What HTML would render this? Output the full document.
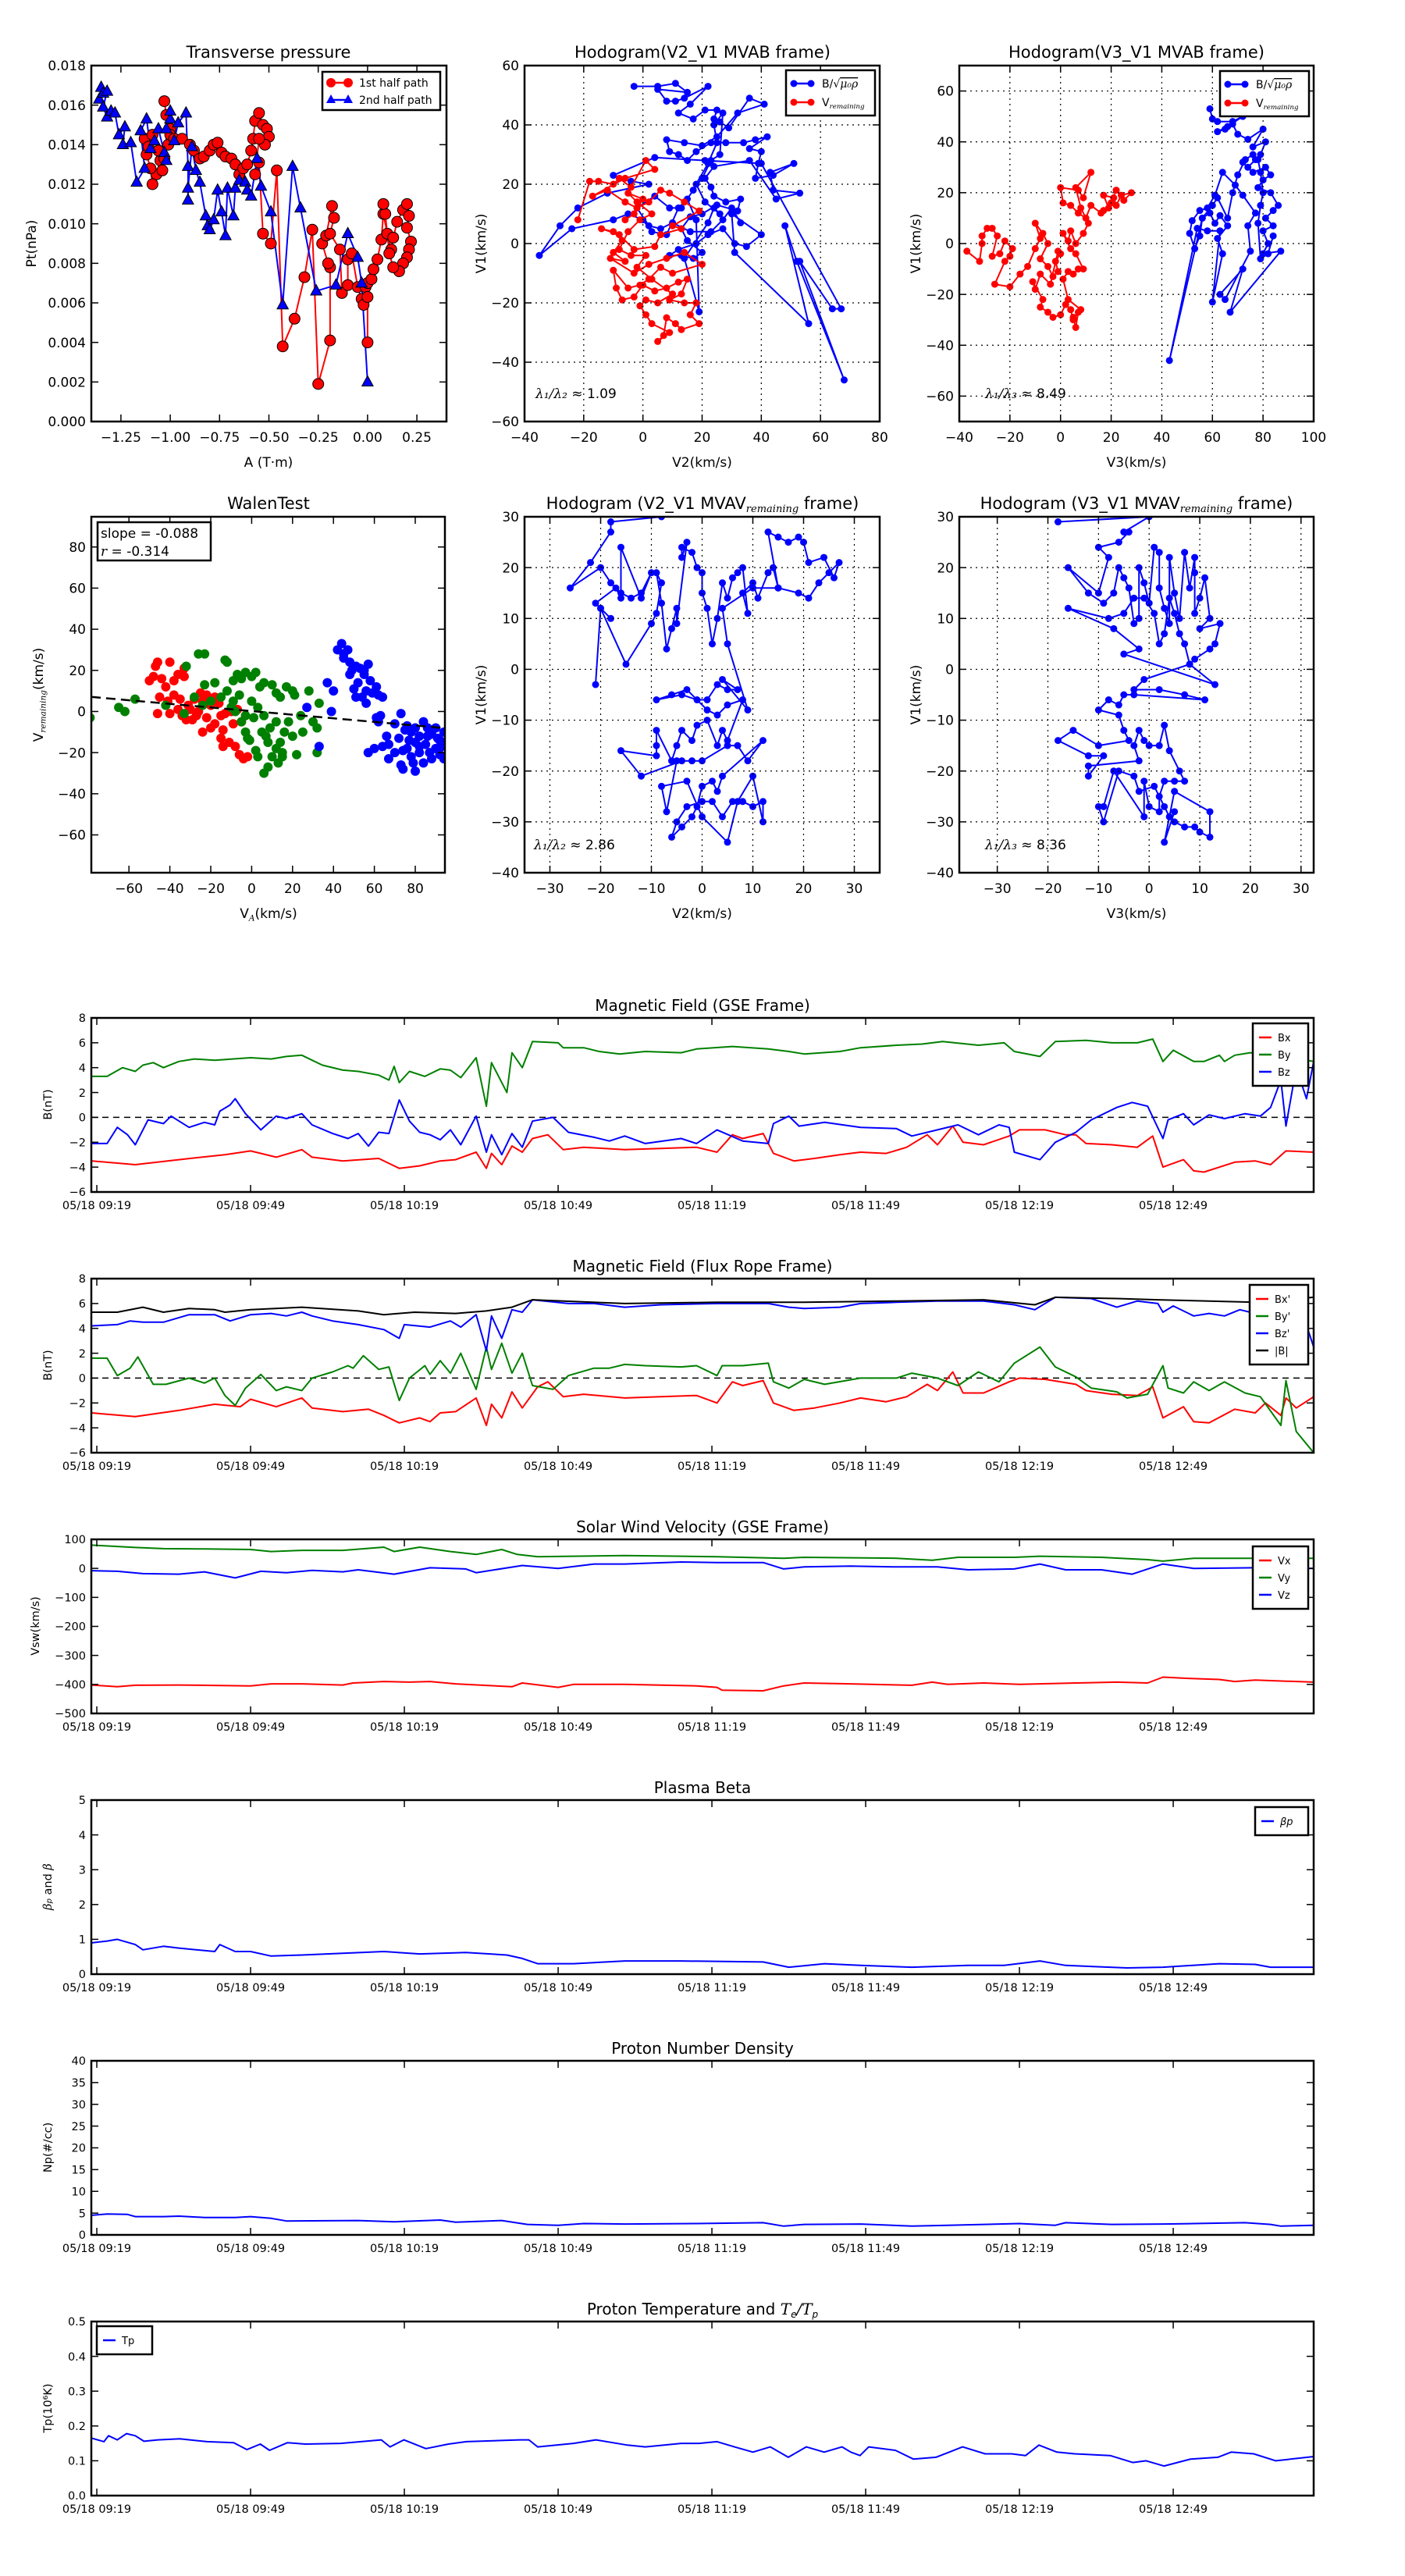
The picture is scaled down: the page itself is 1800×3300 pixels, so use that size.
<!DOCTYPE html>
<html><head><meta charset="utf-8"><style>
html,body{margin:0;padding:0;background:#fff}
svg{display:block}
text{font-family:"DejaVu Sans","Liberation Sans",sans-serif;fill:#000}
</style></head><body>
<svg id="fig" xmlns="http://www.w3.org/2000/svg" width="1800" height="3300" viewBox="0 0 1800 3300"></svg>
<script>
// ---------- data ----------
const tpRed=[[-1.03,0.0162],[-1.02,0.0155],[-1.0,0.0148],[-1.01,0.014],[-1.05,0.0132],[-1.07,0.0125],[-1.09,0.012],[-1.1,0.0128],[-1.12,0.0135],[-1.13,0.0143],[-1.11,0.0139],[-1.09,0.0145],[-1.06,0.0137],[-1.04,0.0127],[-1.03,0.0133],[-1.0,0.0145],[-0.98,0.0143],[-0.94,0.0143],[-0.9,0.014],[-0.88,0.0137],[-0.85,0.0133],[-0.83,0.0134],[-0.8,0.0137],[-0.78,0.014],[-0.76,0.0141],[-0.74,0.0136],[-0.72,0.0134],[-0.69,0.0133],[-0.67,0.013],[-0.65,0.0125],[-0.63,0.0128],[-0.61,0.013],[-0.59,0.0137],[-0.58,0.0143],[-0.57,0.0152],[-0.55,0.0156],[-0.53,0.015],[-0.51,0.0148],[-0.5,0.0144],[-0.52,0.014],[-0.55,0.0143],[-0.57,0.0125],[-0.55,0.0131],[-0.53,0.0095],[-0.49,0.009],[-0.46,0.0127],[-0.43,0.0038],[-0.37,0.0052],[-0.32,0.0073],[-0.28,0.0097],[-0.25,0.0019],[-0.19,0.0041],[-0.19,0.0078],[-0.2,0.008],[-0.23,0.009],[-0.21,0.0094],[-0.18,0.0109],[-0.17,0.0103],[-0.19,0.0095],[-0.14,0.0087],[-0.13,0.0065],[-0.1,0.0069],[-0.1,0.0082],[-0.08,0.0085],[-0.05,0.0068],[-0.03,0.0062],[-0.02,0.0059],[-0.01,0.0068],[0.0,0.0063],[0.0,0.004],[0.0,0.007],[0.02,0.0072],[0.03,0.0077],[0.05,0.0082],[0.07,0.0092],[0.08,0.0105],[0.1,0.0095],[0.12,0.0087],[0.13,0.0093],[0.15,0.0101],[0.18,0.0107],[0.2,0.011],[0.21,0.0104],[0.2,0.0098],[0.22,0.0091],[0.21,0.0087],[0.2,0.0083],[0.18,0.008],[0.16,0.0076],[0.13,0.0078],[0.11,0.0085],[0.09,0.0105],[0.08,0.011]];
const tpBlue=[[-1.36,0.0163],[-1.35,0.0169],[-1.34,0.0166],[-1.32,0.0167],[-1.34,0.0159],[-1.32,0.0154],[-1.3,0.0157],[-1.28,0.0156],[-1.26,0.0145],[-1.23,0.0149],[-1.24,0.014],[-1.2,0.0141],[-1.17,0.0121],[-1.13,0.0128],[-1.15,0.0147],[-1.12,0.0153],[-1.1,0.0138],[-1.08,0.0142],[-1.06,0.0148],[-1.03,0.0136],[-1.02,0.0132],[-1.02,0.0148],[-1.0,0.0153],[-1.0,0.0157],[-0.98,0.0142],[-0.96,0.0151],[-0.92,0.0156],[-0.91,0.0129],[-0.91,0.0112],[-0.91,0.0118],[-0.89,0.0139],[-0.87,0.0127],[-0.85,0.0121],[-0.82,0.0104],[-0.81,0.0099],[-0.8,0.0097],[-0.78,0.0102],[-0.76,0.0117],[-0.74,0.0106],[-0.72,0.0094],[-0.71,0.0118],[-0.68,0.0104],[-0.67,0.0118],[-0.65,0.0122],[-0.62,0.0121],[-0.61,0.0117],[-0.59,0.0114],[-0.56,0.0133],[-0.54,0.0119],[-0.49,0.0106],[-0.43,0.0059],[-0.38,0.0129],[-0.34,0.0108],[-0.26,0.0066],[-0.16,0.0069],[-0.1,0.0095],[-0.05,0.0083],[-0.03,0.007],[0.0,0.002]];
const h1Blue=[[-3,53],[5,53],[11,54],[15,51],[5,52],[8,48],[11,48],[14,49],[22,53],[16,47],[12,44],[17,42],[21,45],[25,45],[24,42],[26,41],[29,39],[36,49],[41,47],[32,44],[25,36],[20,33],[14,34],[8,35],[9,31],[12,30],[15,28],[18,31],[23,34],[28,34],[34,34],[38,35],[42,36],[36,32],[40,31],[39,27],[38,22],[44,23],[51,27],[43,24],[44,18],[53,17],[45,15],[36,28],[24,26],[21,22],[23,19],[24,16],[28,14],[33,15],[32,11],[25,13],[20,10],[16,9],[13,5],[15,1],[20,-3],[17,-5],[13,-4],[9,-4],[12,-2],[18,0],[22,3],[27,5],[31,0],[35,-1],[40,3],[30,10],[31,-3],[56,-27],[48,6],[52,-6],[68,-46],[53,-6],[64,-22],[67,-22],[40,27],[21,28],[4,29],[-10,23],[-4,21],[2,20],[-12,17],[-22,12],[-28,6],[-35,-4],[-24,5],[-10,8],[-5,10],[0,8],[3,4],[8,3],[12,12],[15,15],[18,8],[19,-23],[14,-5],[22,7],[24,12],[26,10],[21,14],[18,20],[22,27],[25,34],[24,40],[27,44],[26,30],[23,28],[20,22],[17,18],[13,12],[9,12],[4,16],[-2,12],[2,6],[6,5],[10,7],[16,4],[23,4],[27,8],[30,12],[33,7]];
const h1Red=[[-22,8],[-18,21],[-15,21],[-10,20],[-8,22],[-4,19],[1,28],[4,25],[-6,22],[-17,16],[-12,18],[-6,14],[-2,12],[2,14],[6,18],[9,17],[14,14],[19,11],[10,6],[13,5],[6,3],[4,-1],[-3,-2],[-8,3],[-14,5],[-10,4],[-7,1],[-10,-3],[-6,-6],[-11,-5],[-3,-10],[2,-7],[8,-5],[14,-3],[20,-7],[10,-10],[6,-8],[2,-12],[-1,-14],[-5,-15],[-10,-9],[-9,-15],[-7,-19],[-3,-18],[0,-14],[4,-16],[8,-15],[12,-13],[15,-12],[13,-17],[9,-19],[14,-20],[18,-20],[16,-24],[19,-27],[13,-29],[11,-27],[8,-25],[7,-31],[5,-33],[9,-30],[3,-27],[1,-24],[-1,-21],[1,-19],[5,-20],[10,-17],[3,-12],[-2,-8],[1,-4],[-4,-4],[-8,-2],[-5,4],[-1,8],[3,10],[-2,14],[-5,17],[0,15],[-3,10],[-6,8]];
const h2Blue=[[59,53],[60,49],[62,48],[68,48],[72,50],[66,46],[62,44],[65,45],[68,47],[70,43],[74,41],[80,45],[76,38],[81,40],[79,35],[77,33],[74,30],[72,32],[76,28],[81,30],[83,27],[80,25],[78,22],[83,20],[86,15],[84,13],[81,10],[84,7],[80,5],[82,0],[80,-4],[87,-3],[67,-27],[72,-10],[63,-20],[65,-22],[75,-3],[74,7],[77,12],[72,19],[69,23],[64,28],[61,19],[58,14],[55,13],[52,9],[51,4],[53,-2],[55,3],[56,10],[59,12],[61,8],[63,11],[66,7],[62,2],[64,-4],[60,-23],[63,5],[58,5],[54,6],[43,-46],[56,10],[60,15],[62,18],[66,10],[68,20],[70,27],[73,33],[76,35],[78,33],[79,28],[80,20],[79,15],[78,8],[79,-6],[82,-4],[84,3]];
const h2Red=[[-37,-3],[-32,-7],[-31,0],[-31,3],[-29,6],[-27,6],[-25,3],[-27,-5],[-24,-4],[-22,1],[-19,-2],[-20,-5],[-22,-7],[-26,-16],[-20,-17],[-16,-12],[-13,-9],[-10,-2],[-8,2],[-10,8],[-7,4],[-5,0],[-8,-6],[-5,-9],[-3,-13],[-1,-11],[-2,-7],[0,-4],[-1,-3],[-4,-16],[-8,-12],[-10,-18],[-11,-15],[-7,-22],[-8,-25],[-5,-27],[-3,-29],[0,-28],[2,-24],[4,-26],[5,-30],[7,-27],[6,-33],[5,-29],[8,-26],[3,-22],[1,-14],[3,-11],[5,-12],[7,-10],[9,-10],[6,-4],[4,-2],[1,4],[3,1],[4,5],[6,0],[9,4],[11,8],[8,14],[6,22],[12,28],[9,18],[7,21],[0,22],[1,16],[4,15],[7,12],[10,10],[12,15],[16,12],[19,14],[17,19],[21,18],[22,15],[24,19],[28,20],[25,17],[22,21],[20,16],[17,13]];
const walenRed=[[-50,15],[-47,22],[-46,24],[-40,24],[-48,17],[-44,16],[-42,12],[-38,15],[-36,18],[-33,21],[-33,17],[-46,-1],[-45,7],[-41,5],[-38,8],[-35,6],[-31,3],[-28,6],[-25,9],[-22,8],[-18,7],[-40,-1],[-36,1],[-32,-4],[-29,-4],[-26,0],[-24,-10],[-20,-8],[-18,-6],[-22,-3],[-15,-2],[-13,-1],[-10,0],[-7,1],[-15,-13],[-14,-17],[-11,-15],[-8,-17],[-6,-21],[-4,-23],[-2,-22],[-14,-9],[-9,-6],[-5,-5],[-20,3],[-27,-2],[-30,1],[-34,-2],[-24,5],[-16,4]];
const walenGreen=[[-79,-3],[-65,2],[-62,0],[-57,6],[-42,3],[-33,-1],[-32,22],[-26,28],[-23,28],[-13,25],[-12,24],[-18,14],[-23,13],[-28,7],[-24,3],[-20,5],[-15,7],[-12,10],[-9,15],[-7,18],[-5,16],[-3,19],[0,17],[2,19],[4,12],[6,14],[10,13],[12,9],[14,7],[17,12],[20,10],[21,8],[28,10],[33,4],[-10,2],[-8,0],[-5,-5],[-3,-10],[-1,-14],[2,-19],[3,-22],[6,-30],[8,-27],[10,-22],[12,-18],[14,-15],[16,-10],[12,-5],[9,-8],[6,-2],[3,2],[0,5],[-3,-2],[-6,8],[-9,5],[15,-20],[18,-5],[22,-21],[25,-10],[30,-5],[32,-8],[32,-20],[20,-12],[24,-2],[-2,-13],[5,-10],[8,-15],[13,-25],[15,-22],[1,-3],[7,-12]];
const walenBlue=[[27,2],[33,-17],[37,14],[40,10],[39,0],[42,30],[44,33],[45,28],[47,30],[45,26],[48,24],[49,20],[48,18],[51,22],[53,21],[55,18],[55,20],[57,23],[58,15],[56,10],[52,14],[50,11],[51,7],[54,7],[56,4],[59,9],[61,12],[62,8],[64,7],[61,-3],[62,-5],[63,-2],[66,-12],[70,-6],[72,-13],[73,-1],[75,-9],[76,-7],[78,-10],[80,-8],[82,-12],[84,-5],[86,-8],[88,-11],[90,-8],[92,-14],[94,-10],[57,-20],[60,-18],[64,-17],[67,-16],[67,-23],[70,-20],[73,-26],[74,-28],[76,-18],[78,-22],[80,-15],[80,-29],[82,-20],[84,-25],[85,-16],[87,-20],[88,-23],[90,-18],[92,-21],[94,-23],[86,-12],[82,-17],[79,-25],[91,-13],[93,-17],[77,-14],[74,-19]];
const walenSlope=-0.088;
const walenIntercept=0.2;
const h3Pts=[[-8,30],[-18,29],[-18,27],[-22,21],[-26,16],[-20,20],[-18,17],[-16,15],[-14,14],[-12,15],[-10,19],[-12,14],[-16,24],[-16,14],[-17,16],[-21,13],[-18,10],[-20,12],[-21,-3],[-20,12],[-15,1],[-10,9],[-9,11],[-8,17],[-9,19],[-8,13],[-7,4],[-6,8],[-5,12],[-5,9],[-3,25],[-4,22],[-4,24],[-2,23],[-1,20],[0,19],[0,15],[1,12],[2,5],[3,10],[4,17],[5,14],[6,18],[7,19],[8,20],[9,11],[8,15],[10,17],[11,14],[13,19],[14,20],[15,16],[13,27],[15,26],[17,25],[19,26],[20,25],[21,21],[24,22],[26,18],[27,21],[25,19],[23,17],[21,14],[19,15],[15,16],[10,16],[4,12],[5,5],[9,-8],[4,-2],[7,-4],[5,-4],[3,-3],[1,-6],[-1,-6],[-4,-5],[-9,-6],[-6,-5],[-3,-4],[1,-8],[3,-9],[5,-7],[8,-6],[5,-14],[4,-12],[3,-15],[1,-10],[-1,-11],[-2,-14],[-4,-12],[-5,-15],[-6,-18],[-9,-12],[-9,-15],[-9,-17],[-16,-16],[-12,-21],[-4,-18],[-2,-18],[0,-18],[5,-15],[7,-15],[9,-18],[12,-14],[4,-21],[3,-24],[2,-22],[0,-23],[-1,-27],[-2,-29],[-4,-31],[-6,-33],[-5,-30],[-3,-27],[0,-26],[2,-26],[4,-29],[6,-26],[8,-26],[10,-27],[12,-26],[12,-30],[10,-21],[7,-26],[5,-34],[0,-29],[-3,-22],[-8,-23],[-7,-28],[-5,-18]];
const h4Pts=[[-18,29],[0,30],[-5,27],[-4,27],[-6,25],[-10,24],[-8,22],[-10,15],[-16,20],[-12,15],[-9,13],[-7,15],[-6,20],[-5,18],[-4,16],[-3,9],[-2,10],[-2,20],[-1,17],[0,13],[1,24],[2,23],[2,16],[3,12],[4,9],[4,22],[5,15],[6,10],[7,23],[8,16],[9,22],[9,19],[9,11],[10,14],[11,18],[12,10],[10,8],[14,9],[13,5],[12,4],[9,2],[8,1],[7,5],[6,7],[5,11],[4,14],[3,7],[2,5],[1,11],[-1,14],[-3,14],[-5,11],[-8,10],[-16,12],[-7,8],[-2,4],[-5,3],[13,-3],[8,1],[-1,-2],[-3,-4],[2,-4],[7,-5],[11,-6],[-3,-5],[-5,-5],[-6,-7],[-8,-6],[-10,-8],[-6,-9],[-5,-12],[-4,-14],[-10,-15],[-15,-12],[-18,-14],[-12,-17],[-9,-17],[-12,-21],[-12,-19],[-2,-18],[-3,-15],[-2,-12],[-1,-14],[0,-15],[2,-15],[3,-11],[4,-16],[6,-20],[7,-22],[5,-22],[3,-22],[2,-25],[2,-28],[0,-27],[-1,-22],[-1,-29],[-7,-20],[-9,-27],[-10,-27],[-9,-30],[-6,-20],[-3,-21],[-2,-24],[1,-23],[3,-27],[4,-29],[5,-30],[7,-31],[9,-31],[10,-32],[12,-33],[12,-28],[5,-24],[3,-34],[5,-28]];
// time series: [minutes after 09:19, value]
const gseBx=[[-1,-3.5],[7.5,-3.8],[16,-3.4],[25,-3.0],[30,-2.7],[35,-3.2],[40,-2.6],[42,-3.2],[48,-3.5],[55,-3.3],[59,-4.1],[63,-3.9],[67,-3.5],[70,-3.4],[74,-2.8],[76,-4.1],[77,-2.9],[79,-3.8],[81,-2.3],[83,-2.8],[85,-1.7],[88,-1.4],[91,-2.6],[95,-2.4],[103,-2.6],[110,-2.5],[117,-2.4],[121,-2.8],[124,-1.4],[126,-1.7],[130,-1.3],[132,-2.9],[136,-3.5],[140,-3.3],[145,-3.0],[149,-2.8],[154,-2.9],[158,-2.4],[162,-1.4],[164,-2.2],[167,-0.7],[169,-2.0],[173,-2.2],[178,-1.5],[180,-1.0],[185,-1.0],[189,-1.4],[191,-1.4],[193,-2.1],[198,-2.2],[203,-2.4],[206,-1.5],[208,-4.0],[212,-3.4],[214,-4.3],[216,-4.4],[222,-3.6],[226,-3.5],[229,-3.8],[232,-2.7],[237.4,-2.8]];
const gseBy=[[-1,3.3],[2,3.3],[5,4.0],[7.5,3.7],[9,4.2],[11,4.4],[13,4.0],[16,4.5],[19,4.7],[23,4.6],[30,4.8],[34,4.7],[37,4.9],[40,5.0],[42,4.6],[44,4.2],[48,3.8],[51,3.7],[55,3.4],[57,3.0],[58,4.1],[59,2.8],[61,3.7],[64,3.3],[67,3.9],[69,3.8],[71,3.2],[74,4.8],[76,0.9],[77,4.4],[80,2.0],[81,5.2],[83,4.0],[85,6.1],[90,6.0],[91,5.6],[95,5.6],[98,5.3],[102,5.1],[107,5.3],[114,5.2],[117,5.5],[124,5.7],[131,5.5],[135,5.3],[138,5.1],[145,5.3],[149,5.6],[156,5.8],[161,5.9],[165,6.1],[172,5.8],[177,6.0],[179,5.3],[184,4.9],[187,6.1],[193,6.2],[198,6.0],[203,6.0],[206,6.3],[208,4.5],[210,5.4],[214,4.5],[216,4.5],[219,5.0],[220,4.5],[222,5.0],[225,5.2],[230,5.0],[237.4,4.5]];
const gseBz=[[-1,-2.1],[2,-2.1],[4,-0.8],[6,-1.4],[7.5,-2.2],[10,-0.2],[13,-0.5],[14.5,0.1],[18,-0.8],[21,-0.4],[23,-0.6],[24,0.5],[26,1.0],[27,1.5],[29,0.3],[32,-1.0],[35,0.1],[37,-0.1],[40,0.3],[42,-0.6],[46,-1.3],[49,-1.7],[51,-1.3],[53,-2.3],[55,-1.2],[57,-1.3],[59,1.4],[61,-0.3],[63,-1.2],[65,-1.4],[67,-1.8],[69,-1.0],[71,-2.2],[74,0.1],[76,-2.8],[77,-1.4],[79,-3.0],[81,-1.3],[83,-2.4],[85,-0.3],[89,0.0],[92,-1.2],[97,-1.6],[100,-1.9],[103,-1.5],[107,-2.1],[114,-1.7],[117,-2.1],[121,-1.0],[126,-1.9],[131,-2.1],[132,-0.5],[135,0.1],[137,-0.7],[142,-0.4],[149,-0.8],[156,-0.9],[159,-1.5],[164,-1.0],[168,-0.6],[172,-1.4],[176,-0.6],[178,-0.8],[179,-2.8],[184,-3.4],[187,-2.0],[191,-1.2],[194,-0.2],[199,0.8],[202,1.2],[205,0.9],[208,-1.7],[209,-0.2],[212,0.3],[214,-0.6],[217,0.2],[220,-0.1],[224,0.3],[227,0.1],[229,0.8],[231,3.0],[232,-0.7],[234,4.0],[236,1.5],[237.4,4.5]];
const frBx=[[-1,-2.8],[7.5,-3.1],[16,-2.6],[23,-2.1],[28,-2.3],[30,-1.7],[35,-2.3],[40,-1.6],[42,-2.4],[48,-2.7],[53,-2.5],[56,-3.0],[59,-3.6],[63,-3.2],[65,-3.5],[67,-2.8],[70,-2.7],[74,-1.6],[76,-3.8],[77,-2.1],[79,-3.2],[81,-1.1],[83,-2.4],[86,-0.7],[88,-0.3],[91,-1.5],[95,-1.3],[103,-1.6],[110,-1.5],[117,-1.4],[121,-2.0],[124,-0.3],[126,-0.6],[130,-0.2],[132,-2.0],[136,-2.6],[140,-2.4],[145,-2.0],[149,-1.6],[154,-1.9],[158,-1.5],[162,-0.5],[164,-1.0],[167,0.5],[169,-1.2],[173,-1.2],[178,-0.3],[180,0.0],[185,-0.1],[191,-0.5],[193,-1.0],[198,-1.3],[203,-1.4],[206,-0.7],[208,-3.2],[212,-2.3],[214,-3.5],[217,-3.6],[222,-2.5],[226,-2.8],[228,-2.0],[231,-3.0],[232,-1.6],[234,-2.4],[237.4,-1.5]];
const frBy=[[-1,1.6],[2,1.6],[4,0.2],[6.5,0.8],[8,1.7],[11,-0.5],[13.5,-0.5],[18,0.0],[21,-0.4],[23,0.0],[25,-1.4],[27,-2.2],[29,-0.8],[32,0.3],[35,-1.0],[37,-0.7],[40,-1.0],[42,0.0],[46,0.5],[49,1.0],[50,0.8],[52,1.8],[55,0.7],[57,0.9],[59,-1.8],[61,0.0],[64,1.0],[65,0.3],[67,1.4],[69,0.4],[71,2.0],[74,-0.9],[76,2.5],[77,0.7],[79,2.8],[81,0.4],[83,2.0],[85,-0.6],[89,-0.9],[92,0.2],[97,0.8],[100,0.8],[103,1.1],[107,1.0],[114,0.9],[117,1.0],[121,0.2],[122,1.0],[126,1.0],[131,1.2],[132,-0.3],[135,-0.8],[138,-0.1],[142,-0.5],[149,0.0],[156,0.0],[159,0.4],[164,0.0],[168,-0.6],[172,0.5],[176,-0.3],[179,1.2],[184,2.5],[187,0.9],[191,0.1],[194,-0.8],[199,-1.1],[201,-1.6],[205,-1.3],[208,1.0],[209,-0.8],[212,-1.2],[214,-0.3],[217,-1.0],[220,-0.3],[224,-1.2],[227,-1.5],[231,-3.8],[232,-0.2],[234,-4.3],[237.4,-6.0]];
const frBz=[[-1,4.2],[4,4.3],[6.5,4.6],[9,4.5],[13,4.5],[18,5.1],[23,5.1],[26,4.6],[30,5.1],[34,5.2],[37,5.0],[40,5.3],[42,5.0],[46,4.6],[51,4.3],[56,3.9],[59,3.2],[60,4.3],[65,4.1],[69,4.6],[71,4.1],[74,5.1],[76,2.2],[77,5.0],[79,3.2],[81,5.5],[83,5.3],[85,6.3],[92,6.0],[97,6.0],[103,5.7],[110,5.9],[121,6.0],[131,6.0],[135,5.7],[138,5.6],[145,5.7],[149,6.0],[156,6.1],[164,6.2],[173,6.2],[179,5.9],[183,5.5],[187,6.5],[194,6.4],[199,5.7],[203,6.2],[207,6.0],[208,5.3],[210,5.8],[214,5.0],[217,5.2],[220,5.0],[223,5.5],[226,5.2],[235,5.5],[237.4,2.5]];
const frBt=[[-1,5.3],[4,5.3],[9,5.7],[13,5.3],[18,5.6],[23,5.5],[25,5.3],[30,5.5],[40,5.7],[51,5.4],[56,5.1],[62,5.3],[70,5.2],[76,5.4],[81,5.7],[85,6.3],[103,6.0],[121,6.1],[138,6.1],[156,6.2],[173,6.3],[183,5.9],[187,6.5],[199,6.4],[207,6.3],[217,6.2],[226,6.1],[237.4,6.5]];
const vx=[[-1,-402],[4,-408],[7.5,-403],[16,-402],[30,-405],[34,-398],[40,-398],[48,-402],[50,-395],[56,-390],[61,-392],[65,-390],[70,-398],[81,-408],[83,-395],[90,-410],[93,-400],[103,-400],[117,-405],[121,-410],[122,-420],[130,-422],[134,-405],[138,-395],[147,-398],[159,-403],[163,-392],[166,-400],[173,-395],[180,-400],[191,-395],[199,-392],[205,-395],[208,-375],[214,-380],[219,-383],[222,-390],[226,-385],[237.4,-392]];
const vy=[[-1,80],[7.5,72],[13,68],[21,67],[30,65],[34,58],[40,62],[48,62],[56,73],[58,58],[63,73],[69,58],[74,48],[79,65],[82,48],[86,40],[93,42],[103,44],[114,42],[121,40],[134,35],[138,38],[156,35],[163,28],[168,38],[179,38],[184,42],[196,38],[205,30],[208,25],[214,35],[237.4,35]];
const vz=[[-1,-8],[4,-10],[9,-18],[16,-20],[21,-12],[27,-33],[32,-10],[37,-15],[42,-7],[48,-12],[51,-5],[58,-20],[65,2],[72,-2],[74,-15],[83,10],[90,0],[97,15],[103,15],[114,22],[121,20],[130,20],[134,-2],[138,5],[147,8],[156,5],[164,5],[170,-5],[179,-2],[184,15],[189,-5],[196,-5],[202,-20],[208,15],[214,0],[226,2],[237.4,0]];
const betaP=[[-1,0.9],[2,0.95],[4,1.0],[7.5,0.85],[9,0.7],[13,0.8],[16,0.75],[23,0.65],[24,0.85],[27,0.65],[30,0.65],[34,0.52],[40,0.55],[48,0.6],[56,0.65],[63,0.58],[72,0.62],[80,0.55],[83,0.45],[86,0.3],[93,0.3],[103,0.38],[114,0.38],[130,0.35],[135,0.2],[142,0.3],[149,0.25],[159,0.2],[170,0.25],[177,0.25],[184,0.38],[189,0.25],[201,0.18],[208,0.2],[219,0.3],[226,0.28],[229,0.2],[237.4,0.2]];
const np=[[-1,4.5],[2,4.8],[6,4.7],[7.5,4.2],[13,4.2],[16,4.3],[21,4.0],[27,4.0],[30,4.2],[34,3.8],[37,3.2],[51,3.3],[58,3.0],[67,3.4],[70,2.9],[79,3.3],[84,2.4],[90,2.2],[95,2.6],[103,2.5],[117,2.6],[130,2.8],[134,2.0],[138,2.4],[149,2.5],[159,2.0],[166,2.2],[180,2.6],[187,2.2],[189,2.8],[198,2.4],[208,2.5],[214,2.6],[224,2.8],[229,2.4],[231,2.0],[237.4,2.2]];
const tp=[[-1,0.165],[1.4,0.155],[2.3,0.172],[4,0.16],[5.8,0.178],[7.5,0.172],[9.2,0.156],[11.9,0.16],[16.2,0.163],[21.5,0.155],[26.7,0.152],[29.3,0.132],[31.9,0.148],[33.7,0.13],[37.2,0.152],[40.7,0.148],[47.6,0.15],[55.5,0.16],[57.2,0.14],[59.9,0.16],[64.2,0.135],[68.6,0.148],[72.1,0.155],[82.5,0.16],[84.3,0.16],[86,0.14],[93,0.15],[97.4,0.16],[103.5,0.145],[107,0.14],[114,0.15],[117.5,0.15],[121,0.155],[124.4,0.14],[128,0.125],[131.4,0.14],[134.9,0.11],[138.4,0.14],[141.9,0.125],[145.4,0.14],[147.1,0.125],[148.9,0.115],[150.6,0.14],[155.8,0.13],[159.3,0.105],[163.7,0.11],[166.3,0.125],[168.9,0.14],[173.3,0.12],[178.5,0.12],[181.2,0.115],[183.8,0.145],[187.3,0.125],[190.8,0.12],[197.7,0.115],[202.1,0.095],[204.7,0.1],[208.2,0.085],[213.4,0.105],[218.7,0.11],[221.3,0.125],[225.7,0.12],[230,0.1],[237.4,0.112]];
const timeTicks=[0,30,60,90,120,150,180,210];
const timeTickLabels=["05/18 09:19","05/18 09:49","05/18 10:19","05/18 10:49","05/18 11:19","05/18 11:49","05/18 12:19","05/18 12:49"];

// ---------- helpers ----------
const NS='http://www.w3.org/2000/svg';
const svg=document.getElementById('fig');
function mk(tag,attrs,parent){const e=document.createElementNS(NS,tag);for(const k in attrs)e.setAttribute(k,attrs[k]);(parent||svg).appendChild(e);return e;}
function txt(x,y,s,size,anchor,parent,name){
  const e=mk('text',{x:x,y:y,'font-size':size,'text-anchor':anchor||'middle'},parent);
  e.textContent=s;
  
  
  return e;}
function axesBox(x,y,w,h,xmin,xmax,ymin,ymax,name){
  const g=mk('g',{});
  
  
  const sx=v=>x+(v-xmin)/(xmax-xmin)*w;
  const sy=v=>y+h-(v-ymin)/(ymax-ymin)*h;
  const clipId='c'+Math.round(x)+'_'+Math.round(y);
  const cp=mk('clipPath',{id:clipId},g);
  mk('rect',{x:x,y:y,width:w,height:h},cp);
  const plot=mk('g',{'clip-path':'url(#'+clipId+')'},g);
  
  
  return {g,plot,sx,sy,x,y,w,h};}
function frame(A){
  const r=mk('rect',{x:A.x,y:A.y,width:A.w,height:A.h,fill:'none',stroke:'#000','stroke-width':2.5},A.g);
  
  }
function xTicks(A,vals,labels,size,off,grid){
  vals.forEach((v,i)=>{const X=A.sx(v);
    if(grid){const gl=mk('line',{x1:X,x2:X,y1:A.y,y2:A.y+A.h,stroke:'#000','stroke-width':1.2,'stroke-dasharray':'2,5'},A.g);
      
      }
    const t1=mk('line',{x1:X,x2:X,y1:A.y+A.h,y2:A.y+A.h-9,stroke:'#000','stroke-width':1.5},A.g);
    
    
    const t2=mk('line',{x1:X,x2:X,y1:A.y,y2:A.y+9,stroke:'#000','stroke-width':1.5},A.g);
    
    
    txt(X,A.y+A.h+off,labels[i],size,'middle',A.g,'x-tick-label');});}
function yTicks(A,vals,labels,size,grid){
  vals.forEach((v,i)=>{const Y=A.sy(v);
    if(grid){const gl=mk('line',{x1:A.x,x2:A.x+A.w,y1:Y,y2:Y,stroke:'#000','stroke-width':1.2,'stroke-dasharray':'2,5'},A.g);
      
      }
    const t1=mk('line',{x1:A.x,x2:A.x+9,y1:Y,y2:Y,stroke:'#000','stroke-width':1.5},A.g);
    
    
    const t2=mk('line',{x1:A.x+A.w,x2:A.x+A.w-9,y1:Y,y2:Y,stroke:'#000','stroke-width':1.5},A.g);
    
    
    txt(A.x-7,Y+size*0.36,labels[i],size,'end',A.g,'y-tick-label');});}
function pathOf(A,pts){return pts.map((p,i)=>(i?'L':'M')+A.sx(p[0]).toFixed(1)+' '+A.sy(p[1]).toFixed(1)).join(' ');}
function line(A,pts,color,w,name){
  const p=mk('path',{d:pathOf(A,pts),fill:'none',stroke:color,'stroke-width':w,'stroke-linejoin':'round'},A.plot);
  
  
  return p;}
function dots(A,pts,color,r,name,edge){
  pts.forEach(p=>{const c=mk('circle',{cx:A.sx(p[0]),cy:A.sy(p[1]),r:r,fill:color,stroke:edge||'none','stroke-width':edge?1:0},A.plot);
    
    });}
function tris(A,pts,color,s,name){
  pts.forEach(p=>{const X=A.sx(p[0]),Y=A.sy(p[1]);
    const t=mk('polygon',{points:`${X},${Y-s} ${X-s*0.9},${Y+s*0.65} ${X+s*0.9},${Y+s*0.65}`,fill:color,stroke:'#000','stroke-width':1},A.plot);
    
    });}
function rng(a,b,s){const r=[];for(let v=a;v<=b+1e-9;v+=s)r.push(+v.toFixed(4));return r;}
function fmtMinus(v,d){const s=d!=null?Math.abs(v).toFixed(d):String(Math.abs(v));return (v<0?'\u2212':'')+s;}
function legendBox(x,y,w,h,name){const r=mk('rect',{x:x,y:y,width:w,height:h,fill:'#fff',stroke:'#000','stroke-width':2.5});
  
  }
function legLine(x1,x2,y,color,name){const l=mk('line',{x1:x1,x2:x2,y1:y,y2:y,stroke:color,'stroke-width':2.5});
  
  }
function legDot(x,y,color,r,name){const c=mk('circle',{cx:x,cy:y,r:r,fill:color,stroke:'none'});
  
  }
function subText(x,y,main,sub,size,anchor,name,after){
  const e=mk('text',{x:x,y:y,'font-size':size,'text-anchor':anchor||'start'});
  
  
  const a=mk('tspan',{},e);a.textContent=main;
  const b=mk('tspan',{'font-size':size*0.62,'font-style':'italic','font-family':'DejaVu Serif, serif',dy:size*0.2},e);b.textContent=sub;
  if(after){const c=mk('tspan',{dy:-size*0.2},e);c.textContent=after;}
  return e;}

// ---------- Panel 1: transverse pressure ----------
{const A=axesBox(117,84,455,456,-1.4,0.4,0,0.018,'transverse-pressure-chart');
 line(A,tpRed,'#ff0000',2,'first-half-path-line');
 line(A,tpBlue,'#0000ff',2,'second-half-path-line');
 dots(A,tpRed,'#ff0000',7,'first-half-marker','#000');
 tris(A,tpBlue,'#0000ff',8,'second-half-marker');
 frame(A);
 const xv=[-1.25,-1,-0.75,-0.5,-0.25,0,0.25];
 xTicks(A,xv,xv.map(v=>fmtMinus(v,2)),17,26,false);
 const yv=rng(0,0.018,0.002);
 yTicks(A,yv,yv.map(v=>v.toFixed(3)),17,false);
 txt(344,74,'Transverse pressure',21,'middle',null,'chart-title');
 txt(344,598,'A (T\u00b7m)',17,'middle',null,'x-axis-title');
 const yl=txt(0,0,'Pt(nPa)',17,'middle',null,'y-axis-title');yl.setAttribute('transform','translate(46,312) rotate(-90)');
 legendBox(413,92,151,49,'legend');
 legLine(424,446,106,'#ff0000','legend-line-first');
 legDot(424,106,'#ff0000',6,'legend-marker-first');legDot(446,106,'#ff0000',6,'legend-marker-first');
 txt(460,111,'1st half path',14,'start',null,'legend-label-first');
 legLine(424,446,128,'#0000ff','legend-line-second');
 txt(460,133,'2nd half path',14,'start',null,'legend-label-second');
 const l2=mk('polygon',{points:'424,121 418,132 430,132',fill:'#0000ff'});
 const l3=mk('polygon',{points:'446,121 440,132 452,132',fill:'#0000ff'});
}
// ---------- hodogram generic ----------
function hodo(box,xr,yr,xv,yv,series,title,xlab,ratio,ratioX,name,legend){
  const A=axesBox(box[0],box[1],box[2],box[3],xr[0],xr[1],yr[0],yr[1],name);
  xTicks(A,xv,xv.map(v=>fmtMinus(v)),17,26,true);
  yTicks(A,yv,yv.map(v=>fmtMinus(v)),17,true);
  series.forEach(s=>{line(A,s[0],s[1],2,s[2]+'-line');dots(A,s[0],s[1],4.5,s[2]+'-point');});
  frame(A);
  txt(A.x+A.w/2,A.y+A.h+58,xlab,17,'middle',null,'x-axis-title');
  const yl=txt(0,0,'V1(km/s)',17,'middle',null,'y-axis-title');yl.setAttribute('transform',`translate(${A.x-50},${A.y+A.h/2}) rotate(-90)`);
  const rt=mk('text',{x:ratioX,y:A.y+A.h-30,'font-size':17});
  
  
  const r1=mk('tspan',{'font-family':'DejaVu Serif, serif','font-style':'italic'},rt);r1.textContent=ratio[0];
  const r2=mk('tspan',{},rt);r2.textContent=ratio[1];
  if(legend){const [lx,ly]=legend;legendBox(lx,ly,114,58,'legend');
    legLine(lx+10,lx+32,ly+17,'#0000ff','legend-line-b');legDot(lx+10,ly+17,'#0000ff',4.5,'legend-marker-b');legDot(lx+32,ly+17,'#0000ff',4.5,'legend-marker-b');
    const t1=mk('text',{x:lx+46,y:ly+22,'font-size':14});
    t1.textContent='B/\u221a';const ts=mk('tspan',{'font-family':'DejaVu Serif, serif','font-style':'italic','text-decoration':'overline'},t1);ts.textContent='\u03bc\u2080\u03c1';
    legLine(lx+10,lx+32,ly+41,'#ff0000','legend-line-v');legDot(lx+10,ly+41,'#ff0000',4.5,'legend-marker-v');legDot(lx+32,ly+41,'#ff0000',4.5,'legend-marker-v');
    subText(lx+46,ly+46,'V','remaining',14,'start','legend-label-v');}
  return A;}
const A2=hodo([672,84,455,456],[-40,80],[-60,60],[-40,-20,0,20,40,60,80],[-60,-40,-20,0,20,40,60],
  [[h1Blue,'#0000ff','mvab-b-v2v1'],[h1Red,'#ff0000','mvab-v-v2v1']],'', 'V2(km/s)',['\u03bb\u2081/\u03bb\u2082',' \u2248 1.09'],686,'hodogram-v2-v1-mvab',[1007,90]);
txt(900,74,'Hodogram(V2_V1 MVAB frame)',21,'middle',null,'chart-title');
const A3=hodo([1229,84,454,456],[-40,100],[-70,70],[-40,-20,0,20,40,60,80,100],[-60,-40,-20,0,20,40,60],
  [[h2Blue,'#0000ff','mvab-b-v3v1'],[h2Red,'#ff0000','mvab-v-v3v1']],'', 'V3(km/s)',['\u03bb\u2081/\u03bb\u2083',' \u2248 8.49'],1262,'hodogram-v3-v1-mvab',[1563,91]);
txt(1456,74,'Hodogram(V3_V1 MVAB frame)',21,'middle',null,'chart-title');
const A5=hodo([672,662,455,456],[-35,35],[-40,30],[-30,-20,-10,0,10,20,30],[-40,-30,-20,-10,0,10,20,30],
  [[h3Pts,'#0000ff','mvav-v2v1']],'', 'V2(km/s)',['\u03bb\u2081/\u03bb\u2082',' \u2248 2.86'],684,'hodogram-v2-v1-mvav',null);
subText(900,652,'Hodogram (V2_V1 MVAV','remaining',21,'middle','chart-title',' frame)');
const A6=hodo([1229,662,454,456],[-37.5,32.5],[-40,30],[-30,-20,-10,0,10,20,30],[-40,-30,-20,-10,0,10,20,30],
  [[h4Pts,'#0000ff','mvav-v3v1']],'', 'V3(km/s)',['\u03bb\u2081/\u03bb\u2083',' \u2248 8.36'],1262,'hodogram-v3-v1-mvav',null);
subText(1456,652,'Hodogram (V3_V1 MVAV','remaining',21,'middle','chart-title',' frame)');
// ---------- Walen test ----------
{const A=axesBox(117,662,453,456,-78.4,94.5,-78.4,94.7,'walen-test-chart');
 dots(A,walenRed,'#ff0000',6,'walen-point-red');
 dots(A,walenGreen,'#008000',6,'walen-point-green');
 dots(A,walenBlue,'#0000ff',6,'walen-point-blue');
 const fit=[[-78.4,walenSlope*-78.4+walenIntercept],[94.5,walenSlope*94.5+walenIntercept]];
 const f=line(A,fit,'#000',2.5,'walen-fit-line');f.setAttribute('stroke-dasharray','12,7');
 frame(A);
 const xv=[-60,-40,-20,0,20,40,60,80];
 xTicks(A,xv,xv.map(v=>fmtMinus(v)),17,26,false);
 const yv=[-60,-40,-20,0,20,40,60,80];
 yTicks(A,yv,yv.map(v=>fmtMinus(v)),17,false);
 txt(344,652,'WalenTest',21,'middle',null,'chart-title');
 subText(344,1176,'V','A',17,'middle','x-axis-title','(km/s)');
 const yl=subText(0,0,'V','remaining',17,'middle','y-axis-title','(km/s)');yl.setAttribute('transform','translate(55,890) rotate(-90)');
 legendBox(125,669,145,49,'walen-stats-box');
 txt(129,689,'slope = -0.088',17,'start',null,'walen-slope');
 const rr=mk('text',{x:129,y:712,'font-size':17});
 const ri=mk('tspan',{'font-family':'DejaVu Serif, serif','font-style':'italic'},rr);ri.textContent='r';
 const rv=mk('tspan',{},rr);rv.textContent=' = -0.314';
}
// ---------- time series ----------
function tsPanel(top,ymin,ymax,yv,ylab,series,title,name,zero,legend,ydec){
  const A=axesBox(117,top,1566,223,-1.07,237.4,ymin,ymax,name);
  if(zero){const z=mk('line',{x1:A.x,x2:A.x+A.w,y1:A.sy(0),y2:A.sy(0),stroke:'#000','stroke-width':1.5,'stroke-dasharray':'8,6'},A.plot);
    
    }
  series.forEach(s=>line(A,s[0],s[1],2,s[2]));
  frame(A);
  xTicks(A,timeTicks,timeTickLabels,14.5,22,false);
  yTicks(A,yv,yv.map(v=>ydec!=null?v.toFixed(ydec):fmtMinus(v)),14.5,false);
  txt(900,top-9,title,20,'middle',null,'chart-title');
  const yl=(typeof ylab==='string')?txt(0,0,ylab,14.5,'middle',null,'y-axis-title'):ylab();
  yl.setAttribute('transform',`translate(${legend&&legend.ylx||66},${top+111}) rotate(-90)`);
  if(legend){const [lx,ly,lw]=legend.box;const lh=legend.items.length*22+14;
    legendBox(lx,ly,lw,lh,'legend');
    legend.items.forEach((it,i)=>{const y=ly+18+i*22;legLine(lx+8,lx+24,y,it[1],'legend-line');
      const t=txt(lx+32,y+5,it[0],13,'start',null,'legend-label');if(it[2])t.setAttribute('font-style','italic');});}
  return A;}
tsPanel(1304,-6,8,rng(-6,8,2),'B(nT)',[[gseBx,'#ff0000','bx-line'],[gseBy,'#008000','by-line'],[gseBz,'#0000ff','bz-line']],
  'Magnetic Field (GSE Frame)','magnetic-field-gse-chart',true,{box:[1605,1311,71],items:[['Bx','#ff0000'],['By','#008000'],['Bz','#0000ff']]});
tsPanel(1638,-6,8,rng(-6,8,2),'B(nT)',[[frBx,'#ff0000','bx-prime-line'],[frBy,'#008000','by-prime-line'],[frBz,'#0000ff','bz-prime-line'],[frBt,'#000000','b-total-line']],
  'Magnetic Field (Flux Rope Frame)','magnetic-field-flux-rope-chart',true,{box:[1601,1646,75],items:[["Bx'",'#ff0000'],["By'",'#008000'],["Bz'",'#0000ff'],['|B|','#000000']]});
tsPanel(1972,-500,100,rng(-500,100,100),'Vsw(km/s)',[[vx,'#ff0000','vx-line'],[vy,'#008000','vy-line'],[vz,'#0000ff','vz-line']],
  'Solar Wind Velocity (GSE Frame)','solar-wind-velocity-chart',false,{box:[1605,1981,71],items:[['Vx','#ff0000'],['Vy','#008000'],['Vz','#0000ff']],ylx:50});
tsPanel(2306,0,5,rng(0,5,1),()=>{const e=mk('text',{x:0,y:0,'font-size':14.5,'text-anchor':'middle'});
   const a=mk('tspan',{'font-style':'italic','font-family':'DejaVu Serif, serif'},e);a.textContent='\u03b2';const b=mk('tspan',{'font-size':10,'font-style':'italic'},b0=e);b.textContent='p';
   const c=mk('tspan',{},e);c.textContent=' and ';const d=mk('tspan',{'font-style':'italic','font-family':'DejaVu Serif, serif'},e);d.textContent='\u03b2';return e;},
  [[betaP,'#0000ff','beta-p-line']],'Plasma Beta','plasma-beta-chart',false,{box:[1608,2315,68],items:[['\u03b2p','#0000ff',true]]});
var b0;
tsPanel(2640,0,40,rng(0,40,5),'Np(#/cc)',[[np,'#0000ff','np-line']],'Proton Number Density','proton-density-chart',false,null);
{const A=tsPanel(2974,0,0.5,rng(0,0.5,0.1),'Tp(10\u2076K)',[[tp,'#0000ff','tp-line']],'','proton-temperature-chart',false,{box:[124,2980,71],items:[['Tp','#0000ff']]},1);
 const t=mk('text',{x:900,y:2965,'font-size':20,'text-anchor':'middle'});
 const a=mk('tspan',{},t);a.textContent='Proton Temperature and ';
 const b=mk('tspan',{'font-style':'italic','font-family':'DejaVu Serif, serif'},t);b.textContent='T';
 const c=mk('tspan',{'font-size':12,'font-style':'italic',dy:4},t);c.textContent='e';
 const d=mk('tspan',{'font-style':'italic','font-family':'DejaVu Serif, serif',dy:-4},t);d.textContent='/T';
 const e=mk('tspan',{'font-size':12,'font-style':'italic',dy:4},t);e.textContent='p';
}
</script>
</body></html>
